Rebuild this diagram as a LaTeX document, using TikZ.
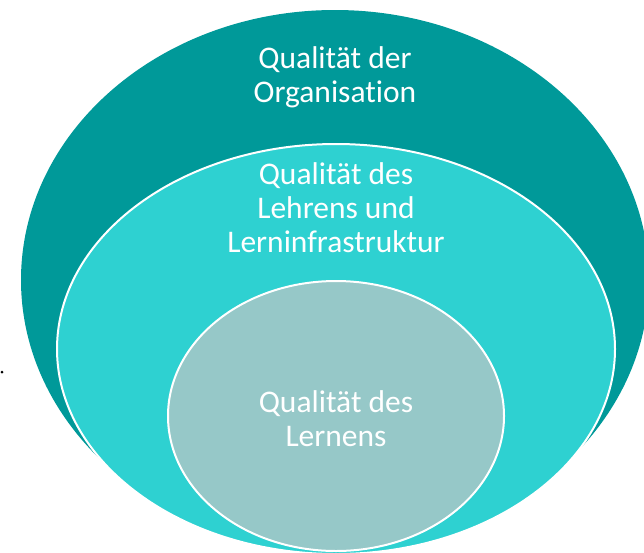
\documentclass[tikz,border=0pt]{standalone}
\usepackage{fontspec}
\setmainfont[Ligatures=NoCommon]{Carlito}
\usepackage{xcolor}
\usetikzlibrary{shapes.geometric}

\definecolor{orgteal}{RGB}{0,153,153}
\definecolor{lehrcyan}{RGB}{46,209,209}
\definecolor{lerngray}{RGB}{150,200,200}

\tikzset{
  ring/.style={ellipse, inner sep=0pt},
  rimmed/.style={draw=white, line width=2pt},
  ringtext/.style={text=white, align=center, font=\fontsize{31.5}{34}\selectfont},
}

\begin{document}
\begin{tikzpicture}[x=1pt, y=-1pt]
\useasboundingbox (0,0) rectangle (644,552);

\node[ring, fill=orgteal, minimum width=628pt, minimum height=540pt] (org) at (335,280) {};
\node[ring, rimmed, fill=lehrcyan, minimum width=558pt, minimum height=410pt] (lehr) at (336,349) {};
\node[ring, rimmed, fill=lerngray, minimum width=336pt, minimum height=270pt] (lern) at (336,416) {};

\node[ringtext] (orgtext) at (335,77) {Qualität der\\Organisation};
\node[ringtext] (lehrtext) at (336,208) {Qualität des\\Lehrens und\\Lerninfrastruktur};
\node[ringtext] (lerntext) at (336,419) {Qualität des\\Lernens};

\node[circle, fill=black, inner sep=0pt, minimum size=3pt] (dot) at (2,372) {};

\end{tikzpicture}
\end{document}
